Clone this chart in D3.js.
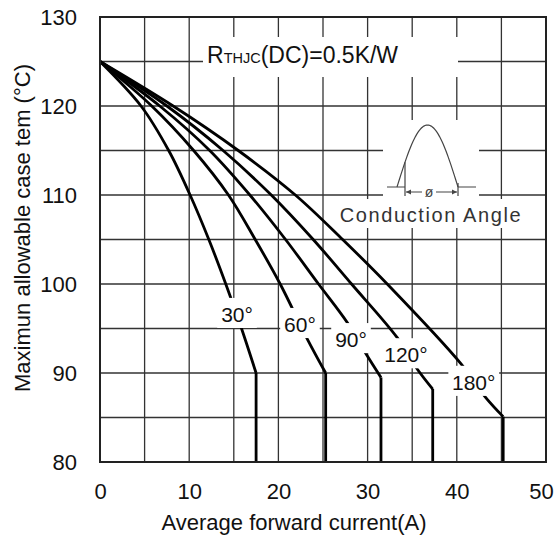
<!DOCTYPE html>
<html>
<head>
<meta charset="utf-8">
<script src="https://cdn.jsdelivr.net/npm/d3@7"></script>
<style>
  body { margin: 0; background: #fff; }
  svg { font-family: "Liberation Sans", Arial, sans-serif; }
</style>
</head>
<body>
<svg width="557" height="543"></svg>
<script>
// conduction angle series, [current A, case temp °C]
const angles = ["30°", "60°", "90°", "120°", "180°"];
const curve30 = [[0, 125], [4.6, 120], [7.7, 115], [10.1, 110], [12.2, 105], [14.1, 100], [15.8, 95.2], [17.5, 90], [17.5, 80]];
const curve60 = [[0, 125], [5.8, 120], [10.5, 115], [14.4, 110], [17.4, 105], [20.2, 100], [23.2, 93.9], [25.3, 90], [25.3, 80]];
const curve90 = [[0, 125], [6.7, 120], [12.3, 115], [16.8, 110], [20.8, 105], [24.5, 100], [27.7, 95.7], [29.8, 92.2], [31.5, 89.5], [31.5, 80]];
const curve120 = [[0, 125], [7.5, 120], [13.8, 115], [19.2, 110], [23.9, 105], [28.2, 100], [33.3, 94], [35.6, 90.4], [37.3, 88.2], [37.3, 80]];
const curve180 = [[0, 125], [8.2, 120], [15.5, 115], [21.9, 110], [27.2, 105], [32.2, 100], [40.5, 91], [43.2, 87.3], [45.2, 85.1], [45.2, 80]];
const xTicks = [0, 10, 20, 30, 40, 50];
const yTicks = [80, 90, 100, 110, 120, 130];

const curves = [curve30, curve60, curve90, curve120, curve180];
// where each angle label sits (data units, text centre / baseline)
const labelPos = [[15.36, 95.73], [22.42, 94.6], [28.14, 92.9], [34.3, 91.2], [41.9, 88.1]];

const svg = d3.select("svg");

const x = d3.scaleLinear().domain([0, 50]).range([100, 546]);
const y = d3.scaleLinear().domain([80, 130]).range([462, 17]);

// grid every 5
const grid = svg.append("g").attr("stroke", "#333").attr("stroke-width", 1.3);
grid.selectAll(".gx")
  .data(d3.range(5, 50, 5))
  .enter()
  .append("line")
  .attr("x1", d => x(d)).attr("x2", d => x(d))
  .attr("y1", y(80)).attr("y2", y(130));
grid.selectAll(".gy")
  .data(d3.range(85, 130, 5))
  .enter()
  .append("line")
  .attr("x1", x(0)).attr("x2", x(50))
  .attr("y1", d => y(d)).attr("y2", d => y(d));

// curves: smooth part up to the bend, then straight drop
const smooth = d3.line().x(d => x(d[0])).y(d => y(d[1])).curve(d3.curveCatmullRom.alpha(0.5));
const straight = d3.line().x(d => x(d[0])).y(d => y(d[1]));

svg.append("g")
  .selectAll("g")
  .data(curves)
  .enter()
  .append("g")
  .each(function (d) {
    const g = d3.select(this);
    g.append("path")
      .attr("d", smooth(d.slice(0, d.length - 1)))
      .attr("fill", "none").attr("stroke", "#000").attr("stroke-width", 2.8);
    g.append("path")
      .attr("d", straight(d.slice(d.length - 2)))
      .attr("fill", "none").attr("stroke", "#000").attr("stroke-width", 2.8);
  });

// frame
svg.append("rect")
  .attr("x", x(0)).attr("y", y(130))
  .attr("width", x(50) - x(0)).attr("height", y(80) - y(130))
  .attr("fill", "none").attr("stroke", "#222").attr("stroke-width", 2);

// angle labels with white knock-out
const fs = 21;
const lab = svg.append("g")
  .selectAll("g")
  .data(angles)
  .enter()
  .append("g");
lab.append("rect")
  .attr("fill", "#fff")
  .attr("x", (d, i) => x(labelPos[i][0]) - d.length * 5.6 - 3)
  .attr("width", d => d.length * 11.2 + 6)
  .attr("y", (d, i) => y(labelPos[i][1]) - fs * 0.72 - 9)
  .attr("height", fs * 0.72 + 15);
lab.append("text")
  .attr("x", (d, i) => x(labelPos[i][0]))
  .attr("y", (d, i) => y(labelPos[i][1]))
  .attr("text-anchor", "middle")
  .attr("font-size", fs)
  .attr("fill", "#111")
  .text(d => d);

// R thjc note
svg.append("rect").attr("x", 203).attr("y", 37).attr("width", 255).attr("height", 40).attr("fill", "#fff");
const note = svg.append("text").attr("x", 207).attr("y", 63).attr("font-size", 23).attr("fill", "#111");
note.append("tspan").text("R");
note.append("tspan").attr("font-size", 14.5).text("THJC");
note.append("tspan").text("(DC)=0.5K/W");

// conduction angle inset
const inset = svg.append("g");
inset.append("rect").attr("x", 383).attr("y", 120).attr("width", 96).attr("height", 82).attr("fill", "#fff");
inset.append("rect").attr("x", 338).attr("y", 199).attr("width", 186).attr("height", 29).attr("fill", "#fff");
const wave = d3.range(0, 1.0001, 0.02).map(t => [397 + t * 61, 187 - 62 * Math.sin(Math.PI * t)]);
inset.append("path")
  .attr("d", d3.line()(wave))
  .attr("fill", "none").attr("stroke", "#444").attr("stroke-width", 1.2);
inset.append("path")
  .attr("d", "M387,187H405M458,187H476M405," + (187 - 62 * Math.sin(Math.PI * 8 / 61)) + "V196M458,183V196")
  .attr("fill", "none").attr("stroke", "#444").attr("stroke-width", 1.2);
inset.append("path")
  .attr("d", "M406,192H422M436,192H457")
  .attr("fill", "none").attr("stroke", "#444").attr("stroke-width", 1.1);
inset.append("path")
  .attr("d", "M406,192l5,-2.5v5zM457,192l-5,-2.5v5z")
  .attr("fill", "#444");
inset.append("text").attr("x", 429).attr("y", 197).attr("text-anchor", "middle")
  .attr("font-size", 14).attr("fill", "#444").text("ø");
inset.append("text").attr("x", 431).attr("y", 222).attr("text-anchor", "middle")
  .attr("font-size", 20).attr("letter-spacing", 1.6).attr("fill", "#333").text("Conduction Angle");

// axes (labels only)
const xAxis = d3.axisBottom(x).tickValues(xTicks).tickSize(0).tickPadding(0);
svg.append("g")
  .attr("transform", "translate(0, 483)")
  .call(xAxis)
  .call(g => g.select(".domain").remove())
  .selectAll("text")
  .attr("font-size", 22)
  .attr("font-family", "Liberation Sans, Arial, sans-serif")
  .attr("fill", "#111")
  .attr("dx", d => (d === 50 ? -5 : 0));

const yAxis = d3.axisLeft(y).tickValues(yTicks).tickSize(0).tickPadding(0);
svg.append("g")
  .attr("transform", "translate(77, 0)")
  .call(yAxis)
  .call(g => g.select(".domain").remove())
  .selectAll("text")
  .attr("font-size", 22)
  .attr("font-family", "Liberation Sans, Arial, sans-serif")
  .attr("fill", "#111");

svg.append("text")
  .attr("x", 294).attr("y", 530)
  .attr("text-anchor", "middle")
  .attr("font-size", 22).attr("fill", "#111")
  .text("Average forward current(A)");

svg.append("text")
  .attr("transform", "translate(30, 228) rotate(-90)")
  .attr("text-anchor", "middle")
  .attr("font-size", 22).attr("fill", "#111")
  .text("Maximun allowable case tem (°C)");
</script>
</body>
</html>
